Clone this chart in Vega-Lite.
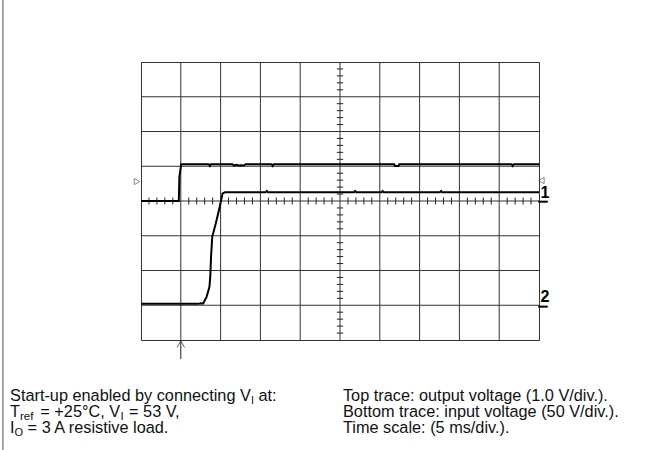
{
  "$schema": "https://vega.github.io/schema/vega-lite/v6.json",
  "width": 398,
  "height": 278,
  "autosize": "none",
  "padding": {"left": 141, "top": 62, "right": 130, "bottom": 110},
  "background": "white",
  "config": {
    "view": {"stroke": "#333", "strokeWidth": 1},
    "text": {"font": "Liberation Sans", "color": "#111"}
  },
  "datasets": {
    "traces": [
      {"trace": "1", "t": 0, "v": 0}, {"trace": "1", "t": 0.95, "v": 0}, {"trace": "1", "t": 0.965, "v": 0.7}, {"trace": "1", "t": 1.01, "v": 1.06},
      {"trace": "1", "t": 1.7, "v": 1.06}, {"trace": "1", "t": 1.73, "v": 1.01}, {"trace": "1", "t": 1.76, "v": 1.06},
      {"trace": "1", "t": 2.3, "v": 1.06}, {"trace": "1", "t": 2.33, "v": 1.02}, {"trace": "1", "t": 2.4, "v": 1.04}, {"trace": "1", "t": 2.45, "v": 1.02}, {"trace": "1", "t": 2.52, "v": 1.03}, {"trace": "1", "t": 2.58, "v": 1.02}, {"trace": "1", "t": 2.63, "v": 1.06},
      {"trace": "1", "t": 3.28, "v": 1.06}, {"trace": "1", "t": 3.31, "v": 1.01}, {"trace": "1", "t": 3.34, "v": 1.06},
      {"trace": "1", "t": 6.36, "v": 1.06}, {"trace": "1", "t": 6.38, "v": 1.01}, {"trace": "1", "t": 6.47, "v": 1.01}, {"trace": "1", "t": 6.49, "v": 1.06},
      {"trace": "1", "t": 9.31, "v": 1.06}, {"trace": "1", "t": 9.34, "v": 1.01}, {"trace": "1", "t": 9.37, "v": 1.06}, {"trace": "1", "t": 10, "v": 1.06},
      {"trace": "2", "t": 0, "v": -2.96}, {"trace": "2", "t": 1.44, "v": -2.96}, {"trace": "2", "t": 1.5, "v": -2.94}, {"trace": "2", "t": 1.565, "v": -2.95},
      {"trace": "2", "t": 1.65, "v": -2.75}, {"trace": "2", "t": 1.72, "v": -2.47}, {"trace": "2", "t": 1.74, "v": -2.18}, {"trace": "2", "t": 1.76, "v": -1.6},
      {"trace": "2", "t": 1.79, "v": -1.03}, {"trace": "2", "t": 1.88, "v": -0.64}, {"trace": "2", "t": 1.98, "v": -0.16}, {"trace": "2", "t": 2.05, "v": 0.22},
      {"trace": "2", "t": 2.11, "v": 0.25}, {"trace": "2", "t": 3.13, "v": 0.25}, {"trace": "2", "t": 3.16, "v": 0.29}, {"trace": "2", "t": 3.19, "v": 0.25},
      {"trace": "2", "t": 5.35, "v": 0.25}, {"trace": "2", "t": 5.38, "v": 0.29}, {"trace": "2", "t": 5.41, "v": 0.25},
      {"trace": "2", "t": 6.04, "v": 0.25}, {"trace": "2", "t": 6.07, "v": 0.29}, {"trace": "2", "t": 6.1, "v": 0.25},
      {"trace": "2", "t": 7.51, "v": 0.25}, {"trace": "2", "t": 7.54, "v": 0.29}, {"trace": "2", "t": 7.57, "v": 0.25}, {"trace": "2", "t": 10, "v": 0.25}
    ],
    "gridx": [{"g": 1}, {"g": 2}, {"g": 3}, {"g": 4}, {"g": 5}, {"g": 6}, {"g": 7}, {"g": 8}, {"g": 9}],
    "gridy": [{"g": -3}, {"g": -2}, {"g": -1}, {"g": 0}, {"g": 1}, {"g": 2}, {"g": 3}],
    "xticks": [
      {"p": 0.2}, {"p": 0.4}, {"p": 0.6}, {"p": 0.8}, {"p": 1.2}, {"p": 1.4}, {"p": 1.6}, {"p": 1.8},
      {"p": 2.2}, {"p": 2.4}, {"p": 2.6}, {"p": 2.8}, {"p": 3.2}, {"p": 3.4}, {"p": 3.6}, {"p": 3.8},
      {"p": 4.2}, {"p": 4.4}, {"p": 4.6}, {"p": 4.8}, {"p": 5.2}, {"p": 5.4}, {"p": 5.6}, {"p": 5.8},
      {"p": 6.2}, {"p": 6.4}, {"p": 6.6}, {"p": 6.8}, {"p": 7.2}, {"p": 7.4}, {"p": 7.6}, {"p": 7.8},
      {"p": 8.2}, {"p": 8.4}, {"p": 8.6}, {"p": 8.8}, {"p": 9.2}, {"p": 9.4}, {"p": 9.6}, {"p": 9.8}
    ],
    "yticks": [
      {"p": -3.8}, {"p": -3.6}, {"p": -3.4}, {"p": -3.2}, {"p": -2.8}, {"p": -2.6}, {"p": -2.4}, {"p": -2.2},
      {"p": -1.8}, {"p": -1.6}, {"p": -1.4}, {"p": -1.2}, {"p": -0.8}, {"p": -0.6}, {"p": -0.4}, {"p": -0.2},
      {"p": 0.2}, {"p": 0.4}, {"p": 0.6}, {"p": 0.8}, {"p": 1.2}, {"p": 1.4}, {"p": 1.6}, {"p": 1.8},
      {"p": 2.2}, {"p": 2.4}, {"p": 2.6}, {"p": 2.8}, {"p": 3.2}, {"p": 3.4}, {"p": 3.6}, {"p": 3.8}
    ]
  },
  "layer": [
    {
      "data": {"name": "gridx"},
      "mark": {"type": "rule", "color": "#333", "strokeWidth": 1},
      "encoding": {
        "x": {"field": "g", "type": "quantitative", "scale": {"domain": [0, 10], "nice": false, "zero": false}, "axis": null},
        "y": {"datum": -4, "scale": {"domain": [-4, 4], "nice": false, "zero": false}, "axis": null},
        "y2": {"datum": 4}
      }
    },
    {
      "data": {"name": "gridy"},
      "mark": {"type": "rule", "color": "#333", "strokeWidth": 1},
      "encoding": {
        "y": {"field": "g", "type": "quantitative", "axis": null},
        "x": {"datum": 0, "axis": null},
        "x2": {"datum": 10}
      }
    },
    {
      "data": {"name": "xticks"},
      "mark": {"type": "rule", "color": "#222", "strokeWidth": 1},
      "encoding": {
        "x": {"field": "p", "type": "quantitative", "axis": null},
        "y": {"datum": -0.1, "axis": null},
        "y2": {"datum": 0.1}
      }
    },
    {
      "data": {"name": "yticks"},
      "mark": {"type": "rule", "color": "#222", "strokeWidth": 1},
      "encoding": {
        "y": {"field": "p", "type": "quantitative", "axis": null},
        "x": {"datum": 4.92, "axis": null},
        "x2": {"datum": 5.08}
      }
    },
    {
      "data": {"name": "traces"},
      "mark": {"type": "line", "strokeWidth": 2, "strokeJoin": "miter", "interpolate": "linear"},
      "encoding": {
        "x": {"field": "t", "type": "quantitative", "axis": null},
        "y": {"field": "v", "type": "quantitative", "axis": null},
        "detail": {"field": "trace"},
        "color": {"value": "#000"}
      }
    },
    {
      "data": {"values": [{"m": "trigger"}]},
      "mark": {"type": "point", "shape": "triangle-right", "filled": false, "size": 40, "stroke": "#555", "strokeWidth": 1},
      "encoding": {"x": {"datum": -0.1, "axis": null}, "y": {"datum": 0.56, "axis": null}}
    },
    {
      "data": {"values": [{"m": "level"}]},
      "mark": {"type": "point", "shape": "triangle-left", "filled": false, "size": 40, "stroke": "#555", "strokeWidth": 1},
      "encoding": {"x": {"datum": 10.06, "axis": null}, "y": {"datum": 0.59, "axis": null}}
    },
    {
      "data": {"values": [{"label": "1"}]},
      "mark": {"type": "text", "fontSize": 16, "fontWeight": "bold", "align": "center", "baseline": "alphabetic", "color": "#000"},
      "encoding": {"text": {"field": "label"}, "x": {"datum": 10.15, "axis": null}, "y": {"datum": 0.09, "axis": null}}
    },
    {
      "data": {"values": [{"label": "2"}]},
      "mark": {"type": "text", "fontSize": 16, "fontWeight": "bold", "align": "center", "baseline": "alphabetic", "color": "#000"},
      "encoding": {"text": {"field": "label"}, "x": {"datum": 10.15, "axis": null}, "y": {"datum": -2.9, "axis": null}}
    },
    {
      "data": {"values": [{"g": "1"}]},
      "mark": {"type": "rule", "color": "#000", "strokeWidth": 2},
      "encoding": {"x": {"datum": 9.98, "axis": null}, "x2": {"datum": 10.22}, "y": {"datum": -0.02, "axis": null}}
    },
    {
      "data": {"values": [{"g": "2"}]},
      "mark": {"type": "rule", "color": "#000", "strokeWidth": 2},
      "encoding": {"x": {"datum": 9.98, "axis": null}, "x2": {"datum": 10.22}, "y": {"datum": -3.04, "axis": null}}
    },
    {
      "data": {"values": [{"a": "start"}]},
      "mark": {"type": "rule", "color": "#222", "strokeWidth": 1},
      "encoding": {"x": {"datum": 1.0, "axis": null}, "y": {"datum": -4.03, "axis": null}, "y2": {"datum": -4.55}}
    },
    {
      "data": {"values": [{"a": "start"}]},
      "mark": {"type": "point", "shape": "M -0.75 1 L 0 -0.3 L 0.75 1", "filled": false, "size": 100, "stroke": "#222", "strokeWidth": 1},
      "encoding": {"x": {"datum": 1.0, "axis": null}, "y": {"datum": -4.07, "axis": null}}
    },
    {
      "data": {"values": [{"b": "border"}]},
      "mark": {"type": "rule", "color": "#888", "strokeWidth": 1.5},
      "encoding": {"x": {"datum": -3.47, "axis": null}, "y": {"datum": 5.9, "axis": null}, "y2": {"datum": -7.3}}
    },
    {
      "data": {"values": [{"s": "Start-up enabled by connecting V"}]},
      "mark": {"type": "text", "fontSize": 16.3, "align": "left", "baseline": "alphabetic"},
      "encoding": {"text": {"field": "s"}, "x": {"datum": -3.29, "axis": null}, "y": {"datum": -5.755, "axis": null}}
    },
    {
      "data": {"values": [{"s": "I"}]},
      "mark": {"type": "text", "fontSize": 11, "align": "left", "baseline": "alphabetic", "dy": 3},
      "encoding": {"text": {"field": "s"}, "x": {"datum": 2.764, "axis": null}, "y": {"datum": -5.755, "axis": null}}
    },
    {
      "data": {"values": [{"s": "at:"}]},
      "mark": {"type": "text", "fontSize": 16.3, "align": "left", "baseline": "alphabetic"},
      "encoding": {"text": {"field": "s"}, "x": {"datum": 2.952, "axis": null}, "y": {"datum": -5.755, "axis": null}}
    },
    {
      "data": {"values": [{"s": "T"}]},
      "mark": {"type": "text", "fontSize": 16.3, "align": "left", "baseline": "alphabetic"},
      "encoding": {"text": {"field": "s"}, "x": {"datum": -3.29, "axis": null}, "y": {"datum": -6.216, "axis": null}}
    },
    {
      "data": {"values": [{"s": "ref"}]},
      "mark": {"type": "text", "fontSize": 11.5, "align": "left", "baseline": "alphabetic", "dy": 3},
      "encoding": {"text": {"field": "s"}, "x": {"datum": -3.04, "axis": null}, "y": {"datum": -6.216, "axis": null}}
    },
    {
      "data": {"values": [{"s": "= +25°C, V"}]},
      "mark": {"type": "text", "fontSize": 16.3, "align": "left", "baseline": "alphabetic"},
      "encoding": {"text": {"field": "s"}, "x": {"datum": -2.53, "axis": null}, "y": {"datum": -6.216, "axis": null}}
    },
    {
      "data": {"values": [{"s": "I"}]},
      "mark": {"type": "text", "fontSize": 11.5, "align": "left", "baseline": "alphabetic", "dy": 3},
      "encoding": {"text": {"field": "s"}, "x": {"datum": -0.515, "axis": null}, "y": {"datum": -6.216, "axis": null}}
    },
    {
      "data": {"values": [{"s": "= 53 V,"}]},
      "mark": {"type": "text", "fontSize": 16.3, "align": "left", "baseline": "alphabetic"},
      "encoding": {"text": {"field": "s"}, "x": {"datum": -0.3, "axis": null}, "y": {"datum": -6.216, "axis": null}}
    },
    {
      "data": {"values": [{"s": "I"}]},
      "mark": {"type": "text", "fontSize": 16.3, "align": "left", "baseline": "alphabetic"},
      "encoding": {"text": {"field": "s"}, "x": {"datum": -3.29, "axis": null}, "y": {"datum": -6.676, "axis": null}}
    },
    {
      "data": {"values": [{"s": "O"}]},
      "mark": {"type": "text", "fontSize": 11, "align": "left", "baseline": "alphabetic", "dy": 3},
      "encoding": {"text": {"field": "s"}, "x": {"datum": -3.178, "axis": null}, "y": {"datum": -6.676, "axis": null}}
    },
    {
      "data": {"values": [{"s": "= 3 A resistive load."}]},
      "mark": {"type": "text", "fontSize": 16.3, "align": "left", "baseline": "alphabetic"},
      "encoding": {"text": {"field": "s"}, "x": {"datum": -2.849, "axis": null}, "y": {"datum": -6.676, "axis": null}}
    },
    {
      "data": {"values": [{"s": "Top trace: output voltage (1.0 V/div.)."}]},
      "mark": {"type": "text", "fontSize": 16.3, "align": "left", "baseline": "alphabetic"},
      "encoding": {"text": {"field": "s"}, "x": {"datum": 5.075, "axis": null}, "y": {"datum": -5.755, "axis": null}}
    },
    {
      "data": {"values": [{"s": "Bottom trace: input voltage (50 V/div.)."}]},
      "mark": {"type": "text", "fontSize": 16.3, "align": "left", "baseline": "alphabetic"},
      "encoding": {"text": {"field": "s"}, "x": {"datum": 5.075, "axis": null}, "y": {"datum": -6.216, "axis": null}}
    },
    {
      "data": {"values": [{"s": "Time scale: (5 ms/div.)."}]},
      "mark": {"type": "text", "fontSize": 16.3, "align": "left", "baseline": "alphabetic"},
      "encoding": {"text": {"field": "s"}, "x": {"datum": 5.075, "axis": null}, "y": {"datum": -6.676, "axis": null}}
    }
  ]
}
